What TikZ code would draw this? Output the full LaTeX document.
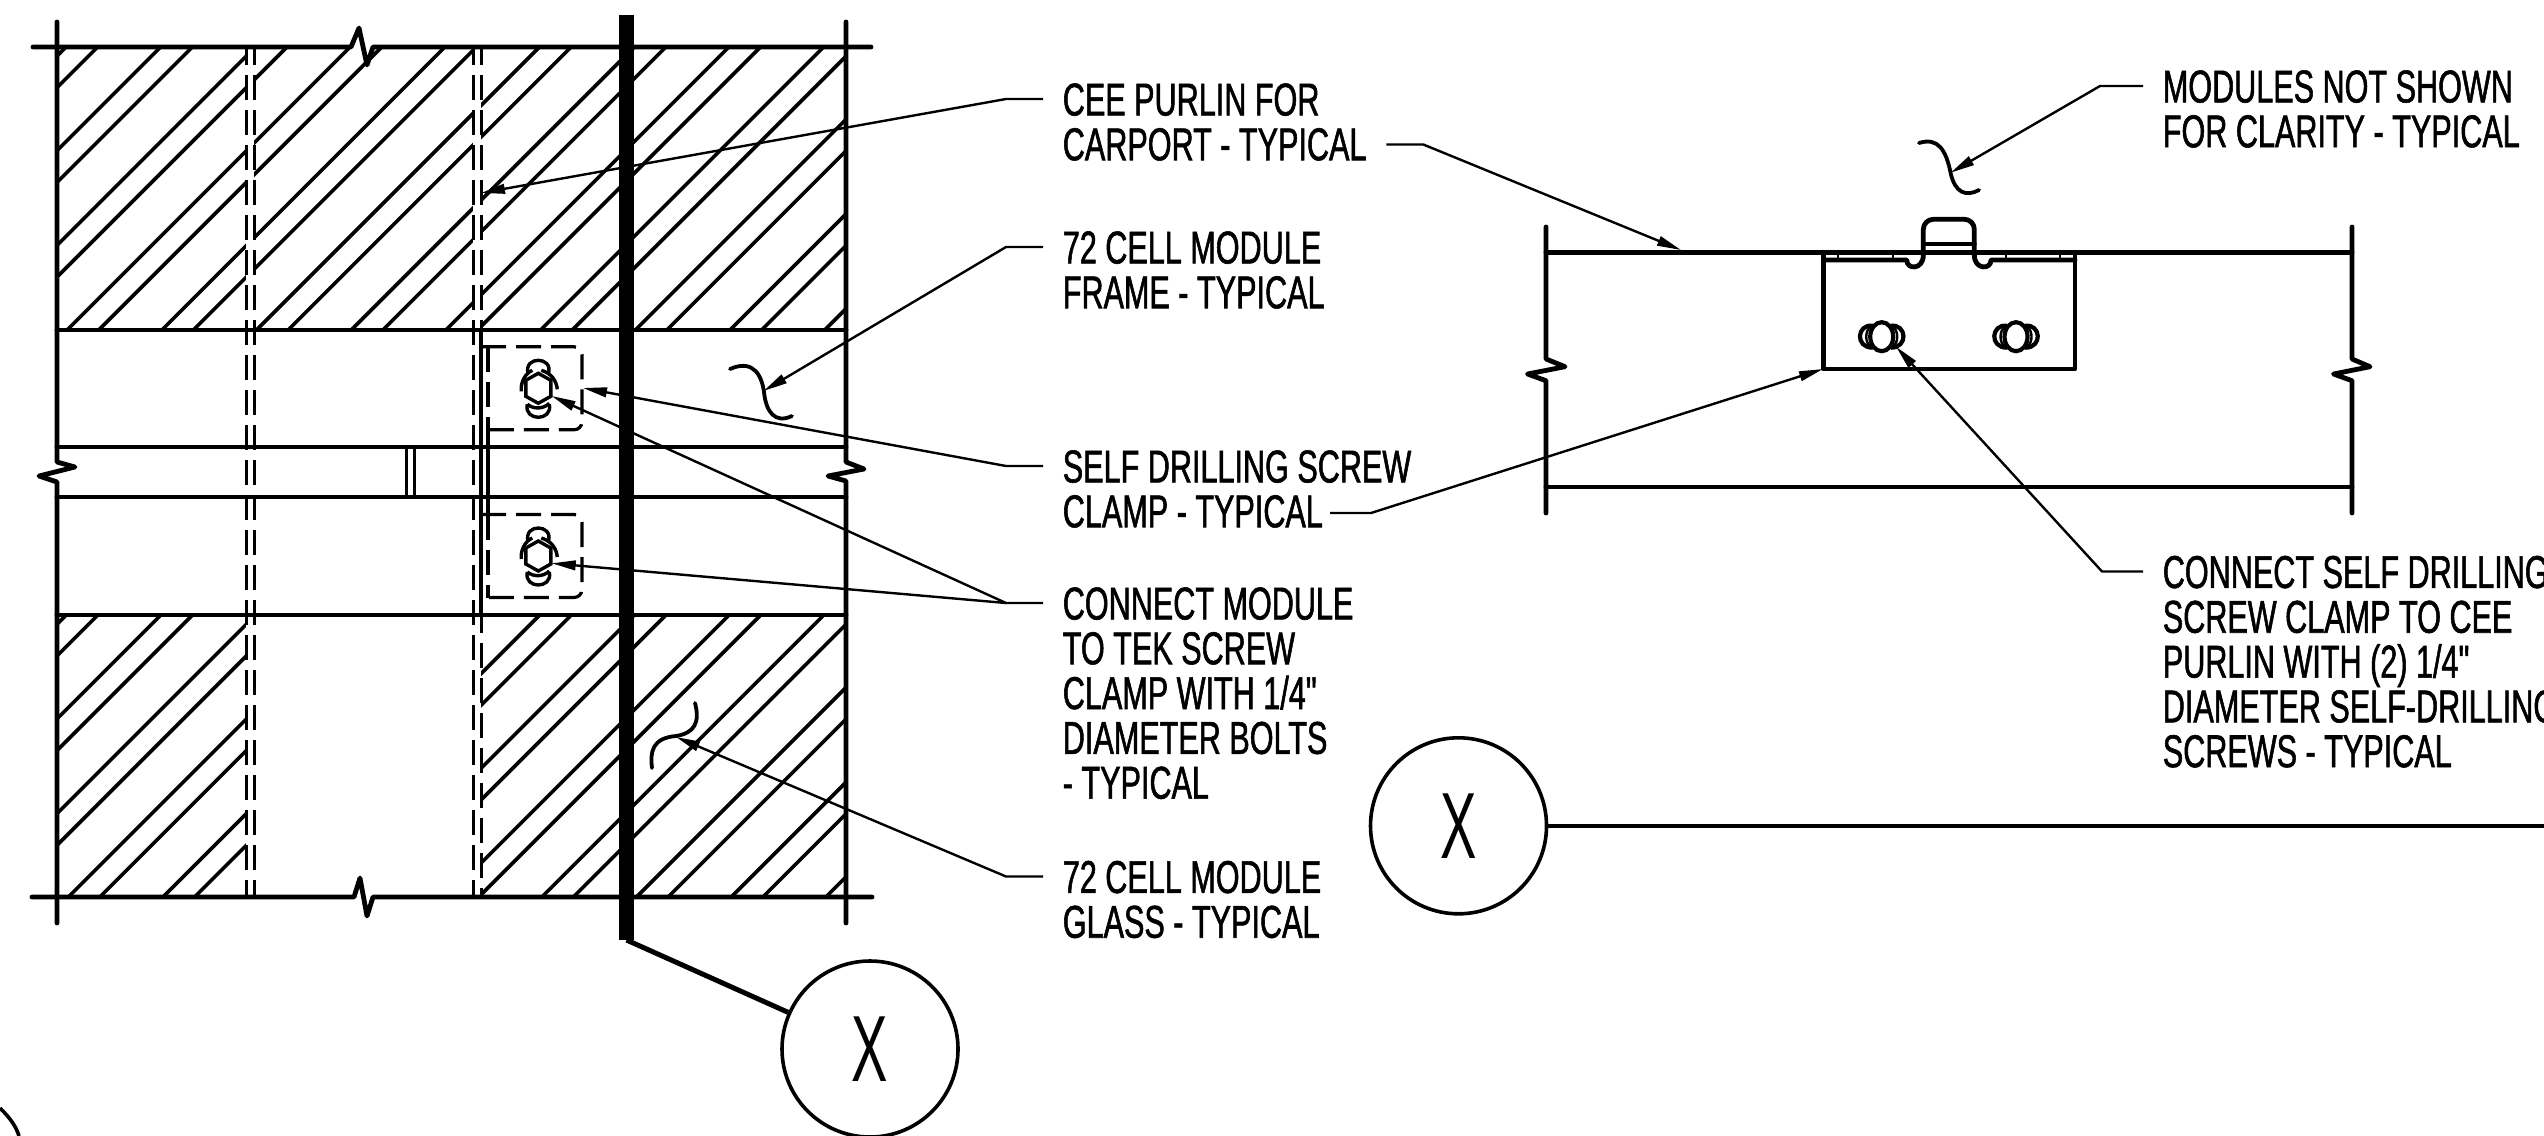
\documentclass[tikz,border=0pt]{standalone}
\usepackage{fontspec}
\setmainfont[FakeStretch=0.665,FakeBold=1.2,Ligatures=TeXOff]{Liberation Sans}
\newfontfamily\bubblefont[FakeStretch=0.58]{Liberation Sans}
\usetikzlibrary{arrows.meta}
\tikzset{
    mainline/.style={line width=1.2pt,line join=round,line cap=round},
    hatchline/.style={line width=0.9pt},
    hiddenline/.style={line width=0.75pt,dash pattern=on 6.25pt off 2.5pt,dash phase=1.75pt},
    clampdash/.style={line width=0.8pt,dash pattern=on 6.25pt off 2.5pt,rounded corners=2pt},
    leader/.style={line width=0.6pt},
    squiggle/.style={line width=0.95pt,line cap=round},
    lbl/.style={anchor=north west,align=left,inner xsep=4.75pt,inner ysep=0pt,
        font=\fontsize{11.5}{11.2}\selectfont},
    bubble/.style={draw,circle,line width=0.9pt,minimum size=44pt,inner sep=0pt,
        font=\bubblefont\fontsize{23.5}{24}\selectfont},
    boltline/.style={line width=0.85pt},
    pics/slotbolt/.style={code={
        \draw[boltline] (0,-15) -- (12.5,-8) -- (12.5,8) -- (0,15) -- (-12.5,8) -- (-12.5,-8) -- cycle;
        \draw[boltline] (-10,-14) .. controls (-13,-24) and (-6,-28) .. (0,-28) .. controls (6,-28) and (13,-24) .. (10,-14);
        \draw[boltline] (-11,16) .. controls (-13,25) and (-6,29) .. (0,29) .. controls (6,29) and (13,25) .. (11,16);
        \draw[boltline] (-11,16) .. controls (-5,21) and (5,21) .. (11,15);
        \draw[boltline] (-17,3) .. controls (-18,-6) and (-13,-15) .. (-6,-18);
        \draw[boltline] (19,1) .. controls (18,-8) and (13,-15) .. (3,-18);
    }},
    pics/sidebolt/.style={code={
        \draw[line width=1.05pt] (0,0) ellipse (11.5 and 14.5);
        \draw[line width=1.05pt] (-9,-11) .. controls (-25,-13) and (-27,11) .. (-9,11);
        \draw[line width=0.6pt] (-11,-10) .. controls (-17,-6) and (-17,6) .. (-11,10);
        \draw[line width=1.05pt] (9,-11) .. controls (25,-13) and (27,11) .. (9,11);
        \draw[line width=0.6pt] (11,-10) .. controls (17,-6) and (17,6) .. (11,10);
    }}
}
\begin{document}
\begin{tikzpicture}[>={Triangle[length=6pt,width=2.4pt]},x=0.25pt,y=-0.25pt]
    \useasboundingbox (0,0) rectangle (2544,1135);
    \begin{scope}
        \clip (57,47) rectangle (846,330) (57,615) rectangle (846,897);
        \foreach \k in {0,...,18} {
            \draw[hatchline] ({66+94.7*\k},47) -- ({94.7*\k-784},897);
            \draw[hatchline] ({97.6+94.7*\k},47) -- ({94.7*\k-752.4},897);
        }
    \end{scope}
    \fill[white] (246,49) rectangle (254,328);
    \fill[white] (473,49) rectangle (481,328);
    \fill[white] (246,617) rectangle (481,895);

    \draw[mainline] (33,47) -- (351,47) -- (359,28) -- (367,65) -- (373,47) -- (871,47);
    \draw[mainline] (32,897) -- (354,897) -- (360,878) -- (367,916) -- (373,897) -- (872,897);
    \draw[mainline] (57,22) -- (57,462) -- (75,467) -- (39,476) -- (57,482) -- (57,923);
    \draw[mainline] (846,22) -- (846,462) -- (864,469) -- (828,476) -- (846,481) -- (846,923);
    \foreach \h in {330,447,497,615} {
        \draw[mainline] (57,\h) -- (846,\h);
    }
    \foreach \v in {246,254,473} {
        \draw[hiddenline] (\v,47) -- (\v,897);
    }
    \draw[hiddenline] (481,47) -- (481,330);
    \draw[hiddenline] (481,615) -- (481,897);
    \draw[mainline] (481,330) -- (481,615);
    \draw[hatchline] (406.4,447) -- (406.4,497);
    \draw[hatchline] (414.5,447) -- (414.5,497);
    \draw[mainline] (488,430) -- (488,514);
    \foreach \c in {388.3,556} {
        \draw[clampdash] (481,\c-41.5) -- (582,\c-41.5) -- (582,\c+41.5) -- (481,\c+41.5);
        \draw[clampdash] (488,\c-41.5) -- (488,\c+41.5);
        \pic at (538.3,\c) {slotbolt};
    }
    \draw[line width=3.75pt] (626.5,15) -- (626.5,940) coordinate (barEnd);
    \node[bubble] (bubbleA) at (870,1049) {X};
    \draw[line width=1.25pt] (barEnd) -- (bubbleA);
    \draw[line width=0.9pt] (0,1108) .. controls (10,1118) and (16,1126) .. (19,1136);

    \draw[mainline] (1546,252.3) -- (2352,252.3);
    \draw[mainline] (1546,487) -- (2352,487);
    \draw[mainline] (1546,227) -- (1546,359) -- (1565,366.7) -- (1527.5,374) -- (1546,380.7) -- (1546,513);
    \draw[mainline] (2352,227) -- (2352,359) -- (2370,366.7) -- (2333.5,374) -- (2352,380.7) -- (2352,513);
    \draw[mainline] (1823.3,252.3) -- (1823.3,369) -- (2075,369) -- (2075,252.3);
    \draw[mainline] (1823.3,260) -- (1906.7,260) .. controls (1906.7,270) and (1923.3,270) .. (1923.3,255);
    \draw[mainline] (2075,260) -- (1991,260) .. controls (1991,270) and (1974.3,270) .. (1974.3,255);
    \draw[mainline,rounded corners=2.5pt] (1923.3,255) -- (1923.3,219.3) -- (1974.3,219.3) -- (1974.3,255);
    \draw[mainline] (1923.3,244) -- (1974.3,244);
    \foreach \t in {1838,1893,2006,2060} {
        \draw[leader] (\t,252.3) -- (\t,260);
    }
    \pic at (1881.7,336.7) {sidebolt};
    \pic at (2016,336.7) {sidebolt};
    \node[bubble] (bubbleB) at (1458.5,825.8) {X};
    \coordinate (bubbleEnd) at (2544,825.8);
    \draw[line width=1.1pt] (bubbleB) -- (bubbleEnd);

    \draw[squiggle] (730,369) .. controls (755,358) and (762,378) .. (764,392) .. controls (766,412) and (775,424) .. (792,416);
    \draw[squiggle] (695,703) .. controls (700,722) and (695,733) .. (676,736) .. controls (652,738) and (650,752) .. (652,768);
    \draw[squiggle] (1919,143) .. controls (1938,137) and (1946,150) .. (1950.6,173) .. controls (1955,193) and (1966,197) .. (1979,190);

    \node[lbl] (ceeLbl) at (1043,82.5) {CEE PURLIN FOR\\CARPORT - TYPICAL};
    \node[lbl] (frameLbl) at (1043,230.5) {72 CELL MODULE\\FRAME - TYPICAL};
    \node[lbl] (screwLbl) at (1043,449.5) {SELF DRILLING SCREW\\CLAMP - TYPICAL};
    \node[lbl] (boltLbl) at (1043,586.5) {CONNECT MODULE\\TO TEK SCREW\\CLAMP WITH 1/4"\\DIAMETER BOLTS\\- TYPICAL};
    \node[lbl] (glassLbl) at (1043,860) {72 CELL MODULE\\GLASS - TYPICAL};
    \node[lbl] (hiddenLbl) at (2143,69.5) {MODULES NOT SHOWN\\FOR CLARITY - TYPICAL};
    \node[lbl] (plateLbl) at (2143,555) {CONNECT SELF DRILLING\\SCREW CLAMP TO CEE\\PURLIN WITH (2) 1/4"\\DIAMETER SELF-DRILLING\\SCREWS - TYPICAL};

    \coordinate (ceeTip) at (481,193);
    \coordinate (carportTip) at (1681,250);
    \coordinate (frameTip) at (763.5,391);
    \coordinate (screwTip) at (583,388);
    \coordinate (clampStart) at (1330,513);
    \coordinate (clampTip) at (1823,369);
    \coordinate (boltTipA) at (551.7,396);
    \coordinate (boltTipB) at (551.7,563.3);
    \coordinate (glassTip) at (676,737);
    \coordinate (hiddenTip) at (1950.6,172.7);
    \coordinate (plateTip) at (1896,346.7);

    \draw[leader,->] (ceeLbl.north west) ++(0,16.5) -- ++(-37,0) -- (ceeTip);
    \draw[leader,->] (ceeLbl.north east) ++(0,62) -- ++(37,0) -- (carportTip);
    \draw[leader,->] (frameLbl.north west) ++(0,16.5) -- ++(-37,0) -- (frameTip);
    \draw[leader,->] (screwLbl.north west) ++(0,16.5) -- ++(-37,0) -- (screwTip);
    \draw[leader,->] (clampStart) -- ++(41,0) -- (clampTip);
    \draw[leader,->] (boltLbl.north west) ++(0,16.5) -- ++(-37,0) -- (boltTipA);
    \draw[leader,->] (boltLbl.north west) ++(-37,16.5) -- (boltTipB);
    \draw[leader,->] (glassLbl.north west) ++(0,16.5) -- ++(-37,0) -- (glassTip);
    \draw[leader,->] (hiddenLbl.north west) ++(0,16.5) -- ++(-43,0) -- (hiddenTip);
    \draw[leader,->] (plateLbl.north west) ++(0,16.5) -- ++(-41,0) -- (plateTip);
\end{tikzpicture}
\end{document}
